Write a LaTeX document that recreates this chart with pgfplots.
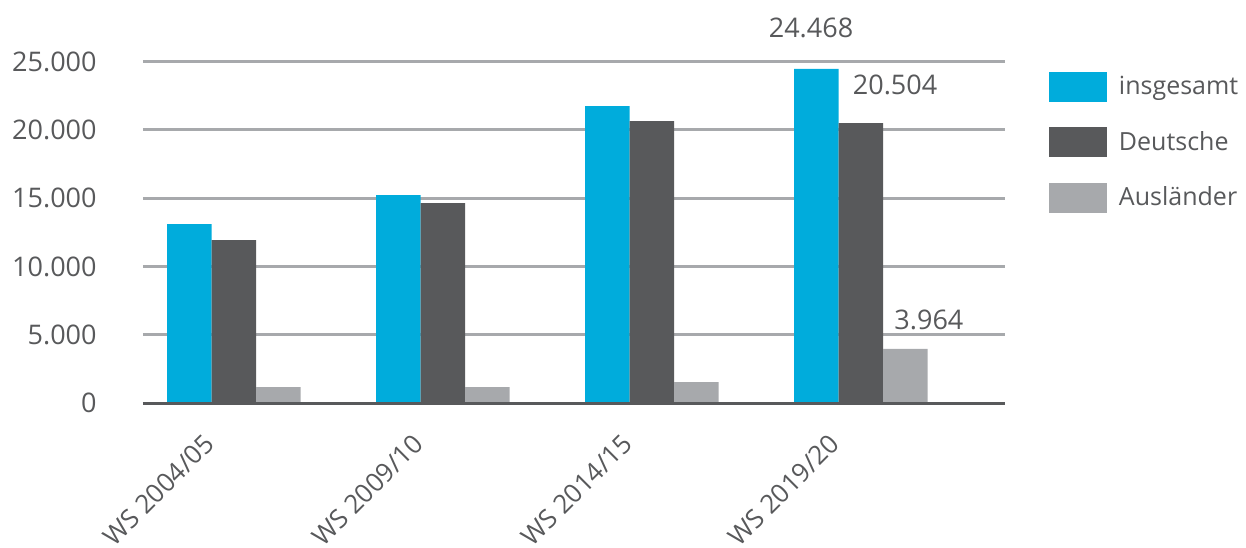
\documentclass[border=0pt]{standalone}
\usepackage{pgfplots}
\pgfplotsset{compat=1.18}
\usepackage{fontspec}
\setmainfont{Open Sans}
\definecolor{cB}{HTML}{00ACDC}
\definecolor{dG}{HTML}{58595B}
\definecolor{lG}{HTML}{A7A9AC}
\begin{document}
\begin{tikzpicture}
\begin{axis}[
  at={(0,0)}, anchor=south west,
  scale only axis, width=431pt, height=170.65pt,
  xmin=-0.435, xmax=3.689, ymin=0, ymax=25000,
  ybar=0pt, bar width=22.25pt,
  axis line style={draw=none},
  major tick length=0pt,
  xtick={-0.15,0.85,1.85,2.84},
  xticklabels={WS 2004/05,WS 2009/10,WS 2014/15,WS 2019/20},
  xticklabel shift=14.5pt,
  xticklabel style={font=\fontsize{13}{15}\selectfont, text=dG, inner sep=0pt,
    rotate=45, anchor=north east},
  ytick={0,5000,10000,15000,20000,25000},
  yticklabels={0,5.000,10.000,15.000,20.000,25.000},
  yticklabel style={font=\fontsize{13.5}{16}\selectfont, text=dG, inner sep=0pt, xshift=-23pt},
  scaled y ticks=false,
  ymajorgrids, grid style={color=lG, line width=1.5pt},
  clip=false,
  legend style={at={(1.051,0.970)}, anchor=north west, draw=none, inner sep=0pt, outer sep=0pt,
    font=\fontsize{12.5}{15}\selectfont, text=dG, row sep=12.75pt, column sep=6pt,
    nodes={inner sep=0pt, minimum height=15pt}},
  legend cell align=left,
  legend image code/.code={\fill[#1] (0pt,-7.5pt) rectangle (29pt,7.5pt);},
]
\addplot[fill=cB, draw=none] coordinates {(0,13111) (1,15236) (2,21755) (3,24468)};
\addplot[fill=dG, draw=none] coordinates {(0,11940) (1,14650) (2,20656) (3,20504)};
\addplot[fill=lG, draw=none] coordinates {(0,1172) (1,1172) (2,1538) (3,3964)};
\legend{insgesamt,Deutsche,Ausländer}
\draw[dG, line width=1.5pt] (axis cs:-0.435,0) -- (axis cs:3.689,0);
\node[font=\fontsize{13.5}{16}\selectfont, text=dG] at (axis cs:2.761,27468) {24.468};
\node[font=\fontsize{13.5}{16}\selectfont, text=dG] at (axis cs:3.163,23293) {20.504};
\node[font=\fontsize{13.5}{16}\selectfont, text=dG] at (axis cs:3.325,6080) {3.964};
\end{axis}
\pgfresetboundingbox
\path (-71.5pt,-72pt) rectangle (551.5pt,201.5pt);
\end{tikzpicture}
\end{document}
